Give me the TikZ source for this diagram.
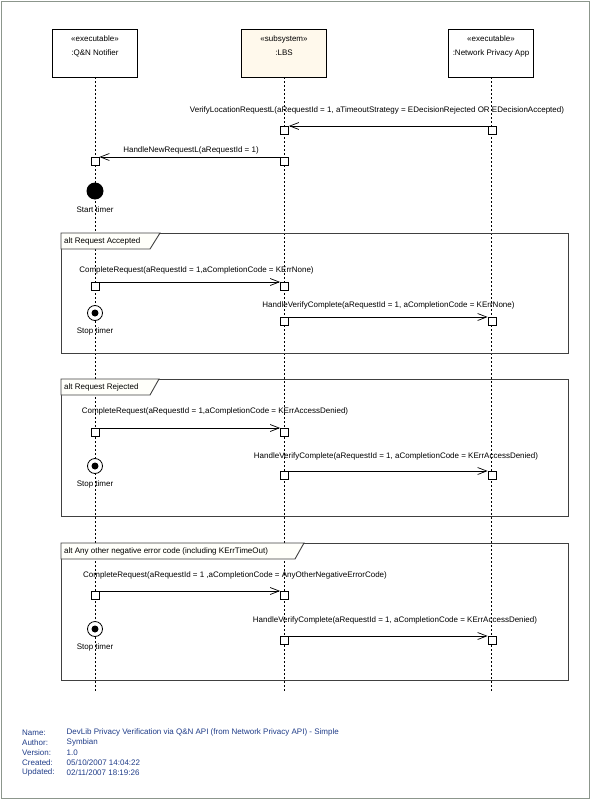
\documentclass[tikz,border=0pt]{standalone}
\usepackage{fontspec}
\setmainfont{Liberation Sans}
\usetikzlibrary{arrows.meta}
\definecolor{lbsfill}{HTML}{FFF9EC}
\definecolor{tabfill}{HTML}{FFFFFA}
\definecolor{footblue}{HTML}{1F3C88}
\definecolor{bordercol}{HTML}{8C968C}
\begin{document}
\begin{tikzpicture}[x=1pt,y=-1pt,
  font=\fontsize{8}{9.6}\selectfont,
  head/.style={draw, line width=0.8pt, fill=white, minimum width=85pt, minimum height=48pt, inner sep=0pt},
  headtext/.style={align=center, inner sep=0pt},
  lifeline/.style={line width=0.8pt, dash pattern=on 2pt off 2pt},
  act/.style={draw, line width=0.8pt, fill=white, minimum size=8pt, inner sep=0pt, anchor=north},
  msg/.style={line width=0.7pt, -{Straight Barb[length=9pt,width=7pt]}},
  frame/.style={draw=black!75, line width=0.9pt},
  lbl/.style={inner sep=0pt},
  foot/.style={inner sep=0pt, anchor=west, text=footblue}]
\useasboundingbox (0,0) rectangle (591,800);
\draw[bordercol, line width=1pt] (1.5,1.5) rectangle (589.5,798.5);

% heads
\node[head] (qn) at (94.5,53) {};
\node[head, fill=lbsfill] (lbs) at (283.5,53) {};
\node[head] (npa) at (490.5,53) {};
\node[headtext] (qnt) at (95,46) {«executable»\\[4.5pt]:Q\&N Notifier};
\node[headtext] (lbst) at (284,46) {«subsystem»\\[4.5pt]:LBS};
\node[headtext] (npat) at (491,46) {«executable»\\[4.5pt]:Network Privacy App};

% lifelines
\coordinate (qnend) at (95,692);
\coordinate (lbsend) at (284,692);
\coordinate (npaend) at (491,692);
\draw[lifeline] (qn.south -| qnend) -- (qnend);
\draw[lifeline] (lbs.south -| lbsend) -- (lbsend);
\draw[lifeline] (npa.south -| npaend) -- (npaend);

% frames
\draw[frame] (61,233) rectangle (568,353);
\draw[frame, fill=tabfill] (61,233) -- (160,233) -- (150,249) -- (61,249) -- cycle;
\node[lbl, anchor=west] (f1) at (64,241) {alt Request Accepted};

\draw[frame] (61,379) rectangle (568,516);
\draw[frame, fill=tabfill] (61,379) -- (159,379) -- (150,395) -- (61,395) -- cycle;
\node[lbl, anchor=west] (f2) at (64,387) {alt Request Rejected};

\draw[frame] (61,543) rectangle (568,680);
\draw[frame, fill=tabfill] (61,543) -- (304,543) -- (295,559) -- (61,559) -- cycle;
\node[lbl, anchor=west] (f3) at (64,551) {alt Any other negative error code (including KErrTimeOut)};

% initial messages
\node[act] (b1) at (284.5,126) {};
\node[act] (c1) at (492,126) {};
\draw[msg] (c1.north west) -- (b1.north east);
\node[lbl] (m1) at (377,110) {VerifyLocationRequestL(aRequestId = 1, aTimeoutStrategy = EDecisionRejected OR EDecisionAccepted)};

\node[act] (a2) at (95,157) {};
\node[act] (b2) at (284.5,157) {};
\draw[msg] (b2.north west) -- (a2.north east);
\node[lbl] (m2) at (191,150) {HandleNewRequestL(aRequestId = 1)};

\node[circle, fill=black, minimum size=17pt, inner sep=0pt] (start) at (95,191) {};
\node[lbl] (startl) at (95,210) {Start timer};

% frame 1
\node[act] (a3) at (95,282) {};
\node[act] (b3) at (284.5,282) {};
\draw[msg] (a3.north east) -- (b3.north west);
\node[lbl] (m3) at (196.5,270) {CompleteRequest(aRequestId = 1,aCompletionCode = KErrNone)};
\node[circle, draw, line width=0.8pt, fill=white, minimum size=15pt, inner sep=0pt] (stop1) at (95,313) {};
\node[circle, fill=black, minimum size=7pt, inner sep=0pt] (stop1c) at (stop1.center) {};
\node[lbl] (stop1l) at (95,331) {Stop timer};
\node[act] (b4) at (284.5,317) {};
\node[act] (c4) at (492,317) {};
\draw[msg] (b4.north east) -- (c4.north west);
\node[lbl] (m4) at (388.5,305) {HandleVerifyComplete(aRequestId = 1, aCompletionCode = KErrNone)};

% frame 2
\node[act] (a5) at (95,428) {};
\node[act] (b5) at (284.5,428) {};
\draw[msg] (a5.north east) -- (b5.north west);
\node[lbl] (m5) at (215,411) {CompleteRequest(aRequestId = 1,aCompletionCode = KErrAccessDenied)};
\node[circle, draw, line width=0.8pt, fill=white, minimum size=15pt, inner sep=0pt] (stop2) at (95,466) {};
\node[circle, fill=black, minimum size=7pt, inner sep=0pt] (stop2c) at (stop2.center) {};
\node[lbl] (stop2l) at (95,484) {Stop timer};
\node[act] (b6) at (284.5,471) {};
\node[act] (c6) at (492,471) {};
\draw[msg] (b6.north east) -- (c6.north west);
\node[lbl] (m6) at (396,456) {HandleVerifyComplete(aRequestId = 1, aCompletionCode = KErrAccessDenied)};

% frame 3
\node[act] (a7) at (95,591) {};
\node[act] (b7) at (284.5,591) {};
\draw[msg] (a7.north east) -- (b7.north west);
\node[lbl] (m7) at (235,575) {CompleteRequest(aRequestId = 1 ,aCompletionCode = AnyOtherNegativeErrorCode)};
\node[circle, draw, line width=0.8pt, fill=white, minimum size=15pt, inner sep=0pt] (stop3) at (95,629) {};
\node[circle, fill=black, minimum size=7pt, inner sep=0pt] (stop3c) at (stop3.center) {};
\node[lbl] (stop3l) at (95,647) {Stop timer};
\node[act] (b8) at (284.5,636) {};
\node[act] (c8) at (492,636) {};
\draw[msg] (b8.north east) -- (c8.north west);
\node[lbl] (m8) at (395,620) {HandleVerifyComplete(aRequestId = 1, aCompletionCode = KErrAccessDenied)};

% footer
\node[foot] (n1) at (22,732.5) {Name:};
\node[foot] (v1) at (66.5,732.5) {DevLib Privacy Verification via Q\&N API (from Network Privacy API) - Simple};
\node[foot] (n2) at (22,742.5) {Author:};
\node[foot] (v2) at (66.5,742.5) {Symbian};
\node[foot] (n3) at (22,752.5) {Version:};
\node[foot] (v3) at (66.5,752.5) {1.0};
\node[foot] (n4) at (22,762.5) {Created:};
\node[foot] (v4) at (66.5,762.5) {05/10/2007 14:04:22};
\node[foot] (n5) at (22,772.5) {Updated:};
\node[foot] (v5) at (66.5,772.5) {02/11/2007 18:19:26};
\end{tikzpicture}
\end{document}
